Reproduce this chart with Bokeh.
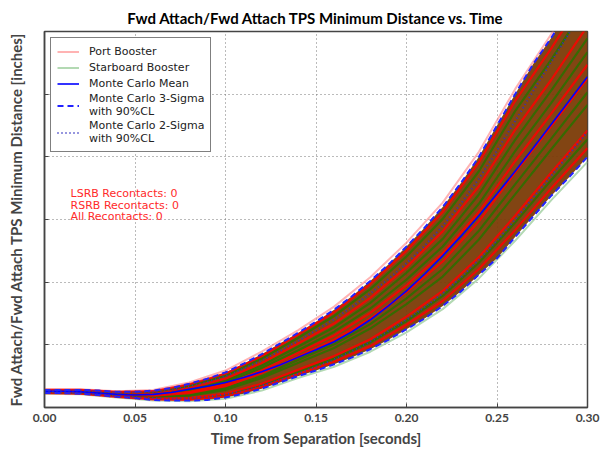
from bokeh.plotting import figure
from bokeh.models import Legend, LegendItem, FixedTicker, Label
from bokeh.embed import file_html
from bokeh.resources import INLINE

# ---------------- data ----------------
x_env = [0.00, 0.01, 0.02, 0.03, 0.04, 0.05, 0.06, 0.07, 0.08, 0.09, 0.10,
         0.11, 0.12, 0.13, 0.14, 0.15, 0.16, 0.17, 0.18, 0.19, 0.20,
         0.21, 0.22, 0.23, 0.24, 0.25, 0.26, 0.27, 0.28, 0.29, 0.30]
mc_mean = [0.26, 0.26, 0.25, 0.23, 0.21, 0.20, 0.21, 0.24, 0.29, 0.34, 0.40,
           0.48, 0.57, 0.68, 0.80, 0.92, 1.05, 1.21, 1.40, 1.62, 1.86,
           2.13, 2.42, 2.73, 3.06, 3.41, 3.77, 4.14, 4.52, 4.90, 5.28]
upper_3sig = [0.28, 0.28, 0.28, 0.27, 0.25, 0.25, 0.27, 0.31, 0.38, 0.46, 0.56,
              0.70, 0.85, 1.02, 1.19, 1.37, 1.56, 1.78, 2.02, 2.28, 2.57,
              2.87, 3.20, 3.58, 4.00, 4.50, 5.00, 5.48, 5.90, 6.35, 6.78]
lower_3sig = [0.23, 0.23, 0.22, 0.20, 0.17, 0.15, 0.12, 0.11, 0.11, 0.12, 0.16,
              0.22, 0.30, 0.40, 0.50, 0.59, 0.69, 0.80, 0.93, 1.08, 1.25,
              1.42, 1.62, 1.85, 2.12, 2.38, 2.72, 3.05, 3.38, 3.68, 4.00]
upper_2sig = [0.27, 0.27, 0.27, 0.26, 0.24, 0.24, 0.25, 0.28, 0.34, 0.41, 0.50,
              0.62, 0.75, 0.90, 1.06, 1.23, 1.41, 1.61, 1.82, 2.05, 2.30,
              2.58, 2.90, 3.25, 3.65, 4.10, 4.57, 5.05, 5.52, 5.98, 6.42]
lower_2sig = [0.25, 0.24, 0.23, 0.21, 0.18, 0.16, 0.15, 0.14, 0.15, 0.17, 0.21,
              0.27, 0.35, 0.44, 0.54, 0.65, 0.77, 0.90, 1.05, 1.22, 1.40,
              1.60, 1.82, 2.07, 2.36, 2.66, 3.00, 3.35, 3.70, 4.05, 4.40]

x_run = [0.00, 0.02, 0.04, 0.06, 0.08, 0.10, 0.12, 0.14, 0.16, 0.18,
         0.20, 0.22, 0.24, 0.26, 0.28, 0.30]
port_runs = [
    [0.23, 0.22, 0.17, 0.13, 0.12, 0.18, 0.33, 0.53, 0.73, 0.98, 1.32, 1.70, 2.21, 2.83, 3.50, 4.14],
    [0.24, 0.23, 0.18, 0.14, 0.15, 0.22, 0.38, 0.60, 0.82, 1.09, 1.45, 1.86, 2.40, 3.06, 3.75, 4.42],
    [0.25, 0.25, 0.21, 0.19, 0.23, 0.34, 0.55, 0.81, 1.08, 1.42, 1.84, 2.33, 2.97, 3.75, 4.49, 5.25],
    [0.26, 0.25, 0.21, 0.20, 0.25, 0.37, 0.59, 0.87, 1.15, 1.51, 1.95, 2.46, 3.12, 3.93, 4.69, 5.47],
    [0.27, 0.27, 0.23, 0.23, 0.31, 0.46, 0.71, 1.02, 1.34, 1.75, 2.24, 2.81, 3.53, 4.43, 5.23, 6.09],
    [0.28, 0.28, 0.25, 0.26, 0.37, 0.54, 0.82, 1.16, 1.52, 1.97, 2.50, 3.12, 3.91, 4.89, 5.73, 6.64],
]
starboard_runs = [
    [0.24, 0.23, 0.18, 0.14, 0.14, 0.20, 0.36, 0.57, 0.78, 1.04, 1.38, 1.78, 2.31, 2.95, 3.63, 4.28],
    [0.25, 0.24, 0.19, 0.17, 0.19, 0.28, 0.47, 0.71, 0.95, 1.26, 1.65, 2.09, 2.68, 3.40, 4.12, 4.83],
    [0.25, 0.24, 0.20, 0.18, 0.21, 0.31, 0.50, 0.76, 1.01, 1.33, 1.74, 2.21, 2.82, 3.56, 4.29, 5.03],
    [0.26, 0.26, 0.22, 0.21, 0.27, 0.40, 0.63, 0.91, 1.21, 1.58, 2.04, 2.57, 3.25, 4.09, 4.86, 5.67],
    [0.26, 0.26, 0.22, 0.22, 0.29, 0.43, 0.67, 0.97, 1.28, 1.67, 2.15, 2.69, 3.40, 4.27, 5.06, 5.89],
    [0.27, 0.27, 0.24, 0.25, 0.35, 0.51, 0.78, 1.11, 1.46, 1.89, 2.41, 3.01, 3.77, 4.73, 5.55, 6.45],
]
port_edge = [0.29, 0.29, 0.26, 0.28, 0.40, 0.59, 0.89, 1.23, 1.61, 2.08, 2.63, 3.27, 4.08, 5.08, 5.96, 6.90]
starboard_edge = [0.22, 0.21, 0.16, 0.11, 0.10, 0.14, 0.27, 0.47, 0.65, 0.89, 1.20, 1.57, 2.06, 2.66, 3.31, 3.92]

x_ticks = [0.00, 0.05, 0.10, 0.15, 0.20, 0.25, 0.30]
x_tick_labels = ["0.00", "0.05", "0.10", "0.15", "0.20", "0.25", "0.30"]
y_ticks = [0, 1, 2, 3, 4, 5, 6]
recontact_texts = ["LSRB Recontacts: 0", "RSRB Recontacts: 0", "All Recontacts: 0"]

# ---------------- figure ----------------
p = figure(width=600, height=449, x_range=(0, 0.30), y_range=(0, 6),
           output_backend="svg", toolbar_location=None,
           min_border_left=44, min_border_right=13, min_border_top=31, min_border_bottom=42,
           title="Fwd Attach/Fwd Attach TPS Minimum Distance vs. Time")
p.background_fill_color = "white"
p.border_fill_color = "white"
p.outline_line_color = "#444444"
p.outline_line_width = 1.5

p.title.align = "center"
p.title.text_font = "Lato"
p.title.text_font_style = "bold"
p.title.text_font_size = "15px"
p.title.text_color = "black"

# grid
for g in (p.xgrid, p.ygrid):
    g.grid_line_color = "#777777"
    g.grid_line_dash = "1 3"
    g.grid_line_width = 1
p.xgrid.ticker = FixedTicker(ticks=x_ticks)
p.ygrid.ticker = FixedTicker(ticks=y_ticks)

# axes
p.xaxis.ticker = FixedTicker(ticks=x_ticks)
p.xaxis.major_label_overrides = {t: l for t, l in zip(x_ticks, x_tick_labels)}
p.xaxis.axis_label = "Time from Separation [seconds]"
p.yaxis.ticker = FixedTicker(ticks=y_ticks)
p.yaxis.major_label_overrides = {t: "" for t in y_ticks}
p.yaxis.axis_label = "Fwd Attach/Fwd Attach TPS Minimum Distance [inches]"
for ax in (p.xaxis, p.yaxis):
    ax.axis_line_color = "#444444"
    ax.axis_line_width = 1.5
    ax.major_tick_in = 4
    ax.major_tick_out = 0
    ax.major_tick_line_color = "#444444"
    ax.minor_tick_line_color = None
    ax.axis_label_text_font = "Lato"
    ax.axis_label_text_font_style = "bold"
    ax.axis_label_text_font_size = "15px"
    ax.major_label_text_font = "Lato"
    ax.major_label_text_font_style = "bold"
    ax.major_label_text_font_size = "12px"
p.xaxis.major_label_standoff = 6
p.xaxis.axis_label_standoff = 4
p.yaxis.major_label_standoff = 4
p.yaxis.axis_label_standoff = 20

# band of Monte Carlo runs
p.varea(x=x_env, y1=lower_3sig, y2=upper_3sig, fill_color="#7b3b06", fill_alpha=0.95)

r_port_edge = p.line(x_run, port_edge, line_color="#ff8080", line_width=2, line_alpha=0.6)
r_stbd_edge = p.line(x_run, starboard_edge, line_color="#80c080", line_width=2, line_alpha=0.6)

for i in range(6):
    p.line(x_run, starboard_runs[i], line_color="#2d6e00", line_width=2.2, line_alpha=0.9)
    p.line(x_run, port_runs[i], line_color="#ff0000", line_width=2.2, line_alpha=0.85)

r_mean = p.line(x_env, mc_mean, line_color="#0000ff", line_width=1.6)
r_u3 = p.line(x_env, upper_3sig, line_color="#2222ff", line_width=2, line_dash="6 4")
p.line(x_env, lower_3sig, line_color="#2222ff", line_width=2, line_dash="6 4")
r_u2 = p.line(x_env, upper_2sig, line_color="#3030c0", line_width=2, line_dash="1 3")
p.line(x_env, lower_2sig, line_color="#3030c0", line_width=2, line_dash="1 3")

# recontact annotations
for txt, yv in zip(recontact_texts, [3.41, 3.23, 3.05]):
    p.add_layout(Label(x=0.0144, y=yv, text=txt, text_color="#ff2a2a",
                       text_font="DejaVu Sans", text_font_size="11px",
                       text_baseline="middle"))

legend = Legend(items=[
    LegendItem(label="Port Booster", renderers=[r_port_edge]),
    LegendItem(label="Starboard Booster", renderers=[r_stbd_edge]),
    LegendItem(label="Monte Carlo Mean", renderers=[r_mean]),
    LegendItem(label="Monte Carlo 3-Sigma\nwith 90%CL", renderers=[r_u3]),
    LegendItem(label="Monte Carlo 2-Sigma\nwith 90%CL", renderers=[r_u2]),
], location="top_left")
legend.border_line_color = "black"
legend.border_line_width = 1
legend.background_fill_alpha = 1
legend.label_text_font = "DejaVu Sans"
legend.label_text_font_size = "11px"
legend.label_text_color = "#222222"
legend.glyph_width = 22
legend.glyph_height = 15
legend.label_height = 15
legend.label_standoff = 10
legend.spacing = 1
legend.padding = 6
legend.margin = 6
p.add_layout(legend)

open("out.html", "w").write(file_html(p, INLINE))
